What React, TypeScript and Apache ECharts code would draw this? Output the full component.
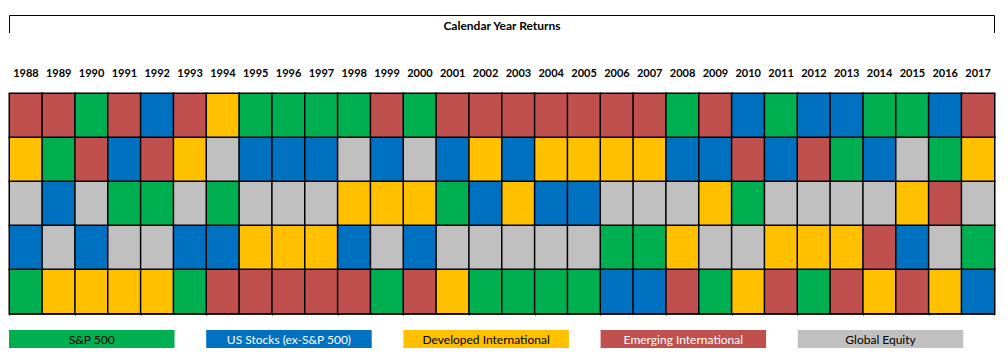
import React, { useEffect, useRef } from "react";
import * as echarts from "echarts";

const years = ["1988","1989","1990","1991","1992","1993","1994","1995","1996","1997","1998","1999","2000","2001","2002","2003","2004","2005","2006","2007","2008","2009","2010","2011","2012","2013","2014","2015","2016","2017"];
const classes = ["S&P 500", "US Stocks (ex-S&P 500)", "Developed International", "Emerging International", "Global Equity"];
const classColors = ["#00B050", "#0070C0", "#FFC000", "#C0504D", "#C0C0C0"];
const classTextColors = ["#000000", "#FFFFFF", "#000000", "#FFFFFF", "#000000"];
const ranks = ["1", "2", "3", "4", "5"];
// S = S&P 500, U = US ex-S&P, D = Developed Intl, E = Emerging Intl, G = Global Equity
const rank1 = "EESEUEDSSSSESEEEEEEESEUSUUSSUE";
const rank2 = "DSEUEDGUUUGUGUDUDDDDUUEUESUGSD";
const rank3 = "GUGSSGSGGGDDDSUDUUGGGDSGGGGDEG";
const rank4 = "UGUGGUUDDDUGUGGGGGSSDGGDDDEUGS";
const rank5 = "SDDDDSEEEEESEDSSSSUUESDESEDEDU";
const rankRows = [rank1, rank2, rank3, rank4, rank5];
const codeIndex: Record<string, number> = { S: 0, U: 1, D: 2, E: 3, G: 4 };

export default function App() {
  const ref = useRef<HTMLDivElement>(null);
  useEffect(() => {
    document.body.style.margin = "0";
    const chart = echarts.init(ref.current!, null, { renderer: "svg" });
    const data: any[] = [];
    rankRows.forEach((row, r) => {
      row.split("").forEach((c, x) => {
        const idx = codeIndex[c];
        data.push([x, r, idx]);
      });
    });
    const font = "Lato, 'Open Sans', sans-serif";
    const legendLeft = 9;
    const legendW = 165.5;
    const legendGap = 31.7;
    const legendItems = classes.map((name, i) => ({
      type: "group",
      x: legendLeft + i * (legendW + legendGap),
      y: 330,
      children: [
        { type: "rect", shape: { x: 0, y: 0, width: legendW, height: 18 }, style: { fill: classColors[i] } },
        {
          type: "text",
          x: legendW / 2,
          y: 9.5,
          style: { text: name, fill: classTextColors[i], font: `12px ${font}`, align: "center", verticalAlign: "middle" },
        },
      ],
    }));
    chart.setOption({
      animation: false,
      backgroundColor: "#ffffff",
      grid: { left: 9.5, right: 13.5, top: 93.5, height: 220, containLabel: false },
      visualMap: {
        type: "piecewise",
        show: false,
        dimension: 2,
        pieces: classColors.map((c, i) => ({ value: i, color: c })),
      },
      xAxis: [
        {
          type: "category",
          data: years,
          position: "top",
          axisLine: { show: true, lineStyle: { color: "#000", width: 1.5 } },
          axisTick: { show: false },
          axisLabel: { interval: 0, margin: 16, color: "#000", fontWeight: "bold", fontSize: 11, fontFamily: font },
          splitLine: { show: false },
        },
        {
          type: "category",
          data: years,
          position: "bottom",
          axisLine: { show: true, lineStyle: { color: "#000", width: 1.5 } },
          axisTick: { show: true, length: 2, lineStyle: { color: "#000" } },
          axisLabel: { show: false },
          splitLine: { show: false },
        },
      ],
      yAxis: {
        type: "category",
        data: ranks,
        inverse: true,
        show: false,
      },
      graphic: [
        {
          type: "polyline",
          shape: { points: [[9.5, 33], [9.5, 15.5], [994.5, 15.5], [994.5, 33]] },
          style: { stroke: "#000", lineWidth: 1, fill: "none" },
        },
        {
          type: "text",
          x: 502,
          y: 25,
          style: { text: "Calendar Year Returns", fill: "#000", font: `bold 12px ${font}`, align: "center", verticalAlign: "middle" },
        },
        ...legendItems,
      ],
      series: [
        {
          type: "heatmap",
          xAxisIndex: 0,
          data,
          itemStyle: { borderColor: "#000", borderWidth: 1.5 },
          emphasis: { disabled: true },
          label: { show: false },
        },
      ],
    });
    return () => chart.dispose();
  }, []);
  return <div ref={ref} style={{ width: 1008, height: 364 }} />;
}
